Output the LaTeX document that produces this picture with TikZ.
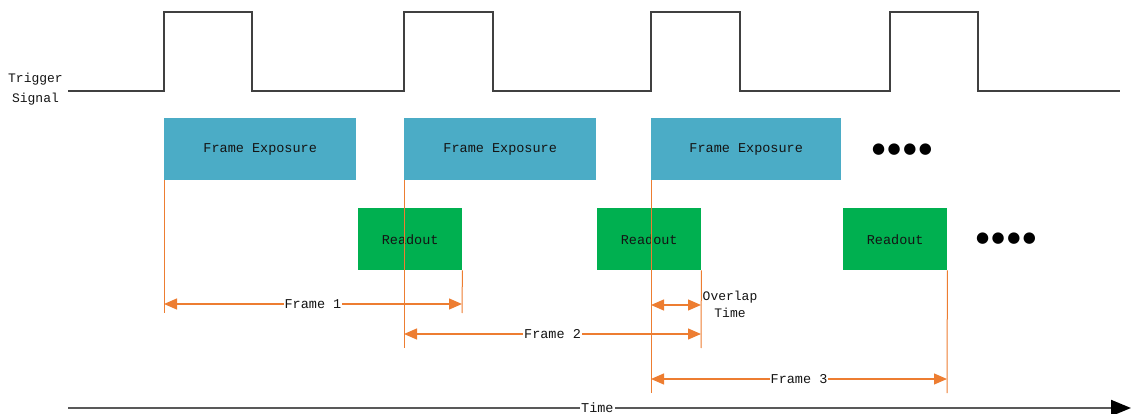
\documentclass[tikz,border=0pt]{standalone}
\usepackage{fontspec}
\newfontfamily\monofont{Liberation Mono}
\newfontfamily\symfont{DejaVu Sans}
\usetikzlibrary{arrows.meta}
\definecolor{expblue}{RGB}{75,172,198}
\definecolor{rdgreen}{RGB}{0,176,80}
\definecolor{dimorange}{RGB}{237,125,49}
\definecolor{sigline}{RGB}{64,64,64}
\definecolor{axisgray}{RGB}{89,89,89}
\definecolor{txt}{RGB}{20,20,20}
\begin{document}
\begin{tikzpicture}[x=1pt,y=-1pt,
  font=\monofont\fontsize{13.5}{15}\selectfont, text=txt,
  expbox/.style={fill=expblue, draw=none, minimum width=192pt, minimum height=62pt, inner sep=0pt, anchor=north west},
  rdbox/.style={fill=rdgreen, draw=none, minimum width=104pt, minimum height=62pt, inner sep=0pt, anchor=north west},
  guide/.style={draw=dimorange, line width=1pt},
  dimarrow/.style={draw=dimorange, line width=1.2pt, {Triangle[length=13pt,width=11pt]}-{Triangle[length=13pt,width=11pt]}},
  dimlabel/.style={fill=white, inner sep=1pt},
  wave/.style={draw=sigline, line width=1.3pt},
  dots/.style={font=\symfont\fontsize{15}{18}\selectfont, text=black, inner sep=0pt},
]
\useasboundingbox (0,0) rectangle (1133,414);

% trigger signal
\node[align=center, font=\monofont\fontsize{13}{20}\selectfont] (trig) at (35.5,89) {Trigger\\Signal};
\draw[wave] (68,91) -- (164,91) -- (164,12) -- (252,12) -- (252,91) -- (404,91) -- (404,12) -- (493,12) -- (493,91)
  -- (651,91) -- (651,12) -- (740,12) -- (740,91) -- (890,91) -- (890,12) -- (978,12) -- (978,91) -- (1120,91);

% exposure boxes
\node[expbox] (e1) at (164,118) {};
\node at (e1.center) {Frame Exposure};
\node[expbox] (e2) at (404,118) {};
\node at (e2.center) {Frame Exposure};
\node[expbox, minimum width=190pt] (e3) at (651,118) {};
\node at (e3.center) {Frame Exposure};
\node[dots] (d1) at (902,150) {●\hspace{2.5pt}●\hspace{2.5pt}●\hspace{2.5pt}●};

% readout boxes
\node[rdbox] (r1) at (358,208) {};
\node at (r1.center) {Readout};
\node[rdbox] (r2) at (597,208) {};
\node at (r2.center) {Readout};
\node[rdbox] (r3) at (843,208) {};
\node at (r3.center) {Readout};
\node[dots] (d2) at (1006,239) {●\hspace{2.5pt}●\hspace{2.5pt}●\hspace{2.5pt}●};

% guide lines
\coordinate (g1) at (164,313);
\coordinate (g2) at (404,348);
\coordinate (g3) at (462,313);
\coordinate (g4) at (651,393);
\coordinate (g5) at (701,348);
\coordinate (g6) at (947,393);
\draw[guide] (e1.south west) -- (g1);
\draw[guide] (e2.south west) -- (g2);
\draw[guide] (r1.south east) -- (g3);
\draw[guide] (e3.south west) -- (g4);
\draw[guide] (r2.south east) -- (g5);
\draw[guide] (r3.south east) -- (g6);

% dimension arrows
\coordinate (f1a) at (164,304); \coordinate (f1b) at (462,304);
\coordinate (f2a) at (404,334); \coordinate (f2b) at (701,334);
\coordinate (f3a) at (651,379); \coordinate (f3b) at (947,379);
\coordinate (oa) at (651,305); \coordinate (ob) at (701,305);
\draw[dimarrow] (f1a) -- (f1b) node[midway, dimlabel] (lf1) {Frame 1};
\draw[dimarrow] (f2a) -- (f2b) node[midway, dimlabel] (lf2) {Frame 2};
\draw[dimarrow] (f3a) -- (f3b) node[midway, dimlabel] (lf3) {Frame 3};
\draw[dimarrow] (oa) -- (ob);
\node[align=center, font=\monofont\fontsize{13}{17}\selectfont] (ov) at (730,304) {Overlap\\Time};

% time axis
\coordinate (t0) at (68,408);
\coordinate (t1) at (1131,408);
\draw[axisgray, line width=2pt, -{Triangle[length=20pt,width=16pt,color=black]}] (t0) -- (t1)
  node[pos=0.498, fill=white, inner sep=1pt, text=txt] (tl) {Time};
\end{tikzpicture}
\end{document}
